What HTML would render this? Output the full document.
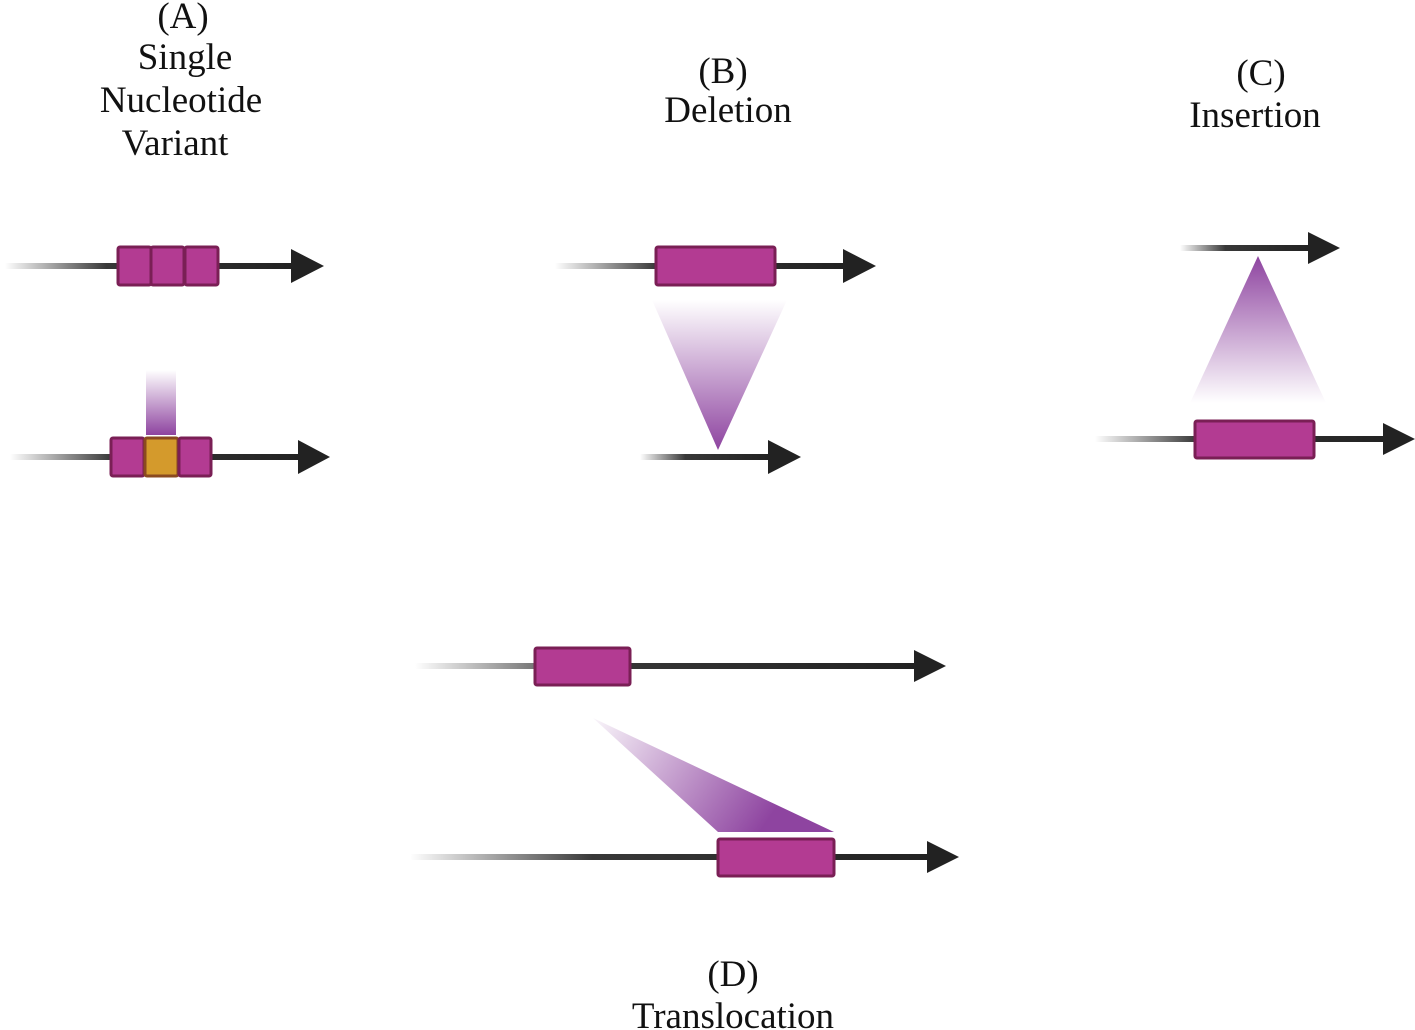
<!DOCTYPE html>
<html><head><meta charset="utf-8"><style>
html,body{margin:0;padding:0;background:#fff;}
svg{display:block;}
text{font-family:"Liberation Serif",serif;font-size:37px;fill:#111;text-anchor:middle;}
</style></head><body>
<svg width="1415" height="1030" viewBox="0 0 1415 1030" xmlns="http://www.w3.org/2000/svg">
<defs>
<linearGradient id="ln" x1="0" x2="1" y1="0" y2="0"><stop offset="0" stop-color="#222" stop-opacity="0"/><stop offset="0.35" stop-color="#222" stop-opacity="0.9"/><stop offset="1" stop-color="#222"/></linearGradient>
<linearGradient id="down" x1="0" x2="0" y1="0" y2="1"><stop offset="0" stop-color="#8e44a0" stop-opacity="0"/><stop offset="1" stop-color="#8e44a0"/></linearGradient>
<linearGradient id="up" x1="0" x2="0" y1="1" y2="0"><stop offset="0" stop-color="#8e44a0" stop-opacity="0"/><stop offset="1" stop-color="#8e44a0"/></linearGradient>
<linearGradient id="diag" x1="593" y1="718" x2="760" y2="832" gradientUnits="userSpaceOnUse"><stop offset="0" stop-color="#8e44a0" stop-opacity="0.05"/><stop offset="1" stop-color="#8e44a0"/></linearGradient>
</defs>
<!-- A top -->
<rect x="5" y="263" width="290" height="6" fill="url(#ln)"/>
<polygon points="291,249 324,266 291,283" fill="#222"/>
<g fill="#b33b92" stroke="#7a1f55" stroke-width="3">
<rect x="118" y="247" width="33" height="38" rx="2"/><rect x="151" y="247" width="33" height="38" rx="2"/><rect x="185" y="247" width="33" height="38" rx="2"/>
</g>
<!-- A bottom -->
<rect x="146" y="370" width="30" height="65" fill="url(#down)"/>
<rect x="10" y="454" width="290" height="6" fill="url(#ln)"/>
<polygon points="298,440 330,457 298,474" fill="#222"/>
<g stroke-width="3">
<rect x="111" y="438" width="33" height="38" rx="2" fill="#b33b92" stroke="#7a1f55"/>
<rect x="145" y="438" width="33" height="38" rx="2" fill="#d49a2c" stroke="#8a4a20"/>
<rect x="179" y="438" width="32" height="38" rx="2" fill="#b33b92" stroke="#7a1f55"/>
</g>
<!-- B -->
<rect x="555" y="263" width="290" height="6" fill="url(#ln)"/>
<polygon points="843,249 876,266 843,283" fill="#222"/>
<rect x="656" y="247" width="119" height="38" rx="2" fill="#b33b92" stroke="#7a1f55" stroke-width="3"/>
<polygon points="652,300 787,300 718,450" fill="url(#down)"/>
<rect x="640" y="454" width="130" height="6" fill="url(#ln)"/>
<polygon points="768,440 801,457 768,474" fill="#222"/>
<!-- C -->
<rect x="1180" y="245" width="130" height="6" fill="url(#ln)"/>
<polygon points="1308,232 1340,248 1308,264" fill="#222"/>
<polygon points="1258,256 1326,403 1190,403" fill="url(#up)"/>
<rect x="1095" y="436" width="290" height="6" fill="url(#ln)"/>
<polygon points="1383,423 1415,439 1383,455" fill="#222"/>
<rect x="1195" y="421" width="119" height="37" rx="2" fill="#b33b92" stroke="#7a1f55" stroke-width="3"/>
<!-- D -->
<rect x="415" y="663" width="500" height="6" fill="url(#ln)"/>
<polygon points="914,650 946,666 914,682" fill="#222"/>
<rect x="535" y="648" width="95" height="37" rx="2" fill="#b33b92" stroke="#7a1f55" stroke-width="3"/>
<polygon points="593,718 834,832 718,832" fill="url(#diag)"/>
<rect x="410" y="854" width="520" height="6" fill="url(#ln)"/>
<polygon points="927,841 959,857 927,873" fill="#222"/>
<rect x="718" y="839" width="116" height="37" rx="2" fill="#b33b92" stroke="#7a1f55" stroke-width="3"/>
<!-- labels -->
<text x="183" y="28">(A)</text>
<text x="185" y="69">Single</text>
<text x="181" y="112">Nucleotide</text>
<text x="175" y="155">Variant</text>
<text x="723" y="83">(B)</text>
<text x="728" y="122">Deletion</text>
<text x="1261" y="85">(C)</text>
<text x="1255" y="127">Insertion</text>
<text x="733" y="986">(D)</text>
<text x="733" y="1028">Translocation</text>
</svg>
</body></html>
